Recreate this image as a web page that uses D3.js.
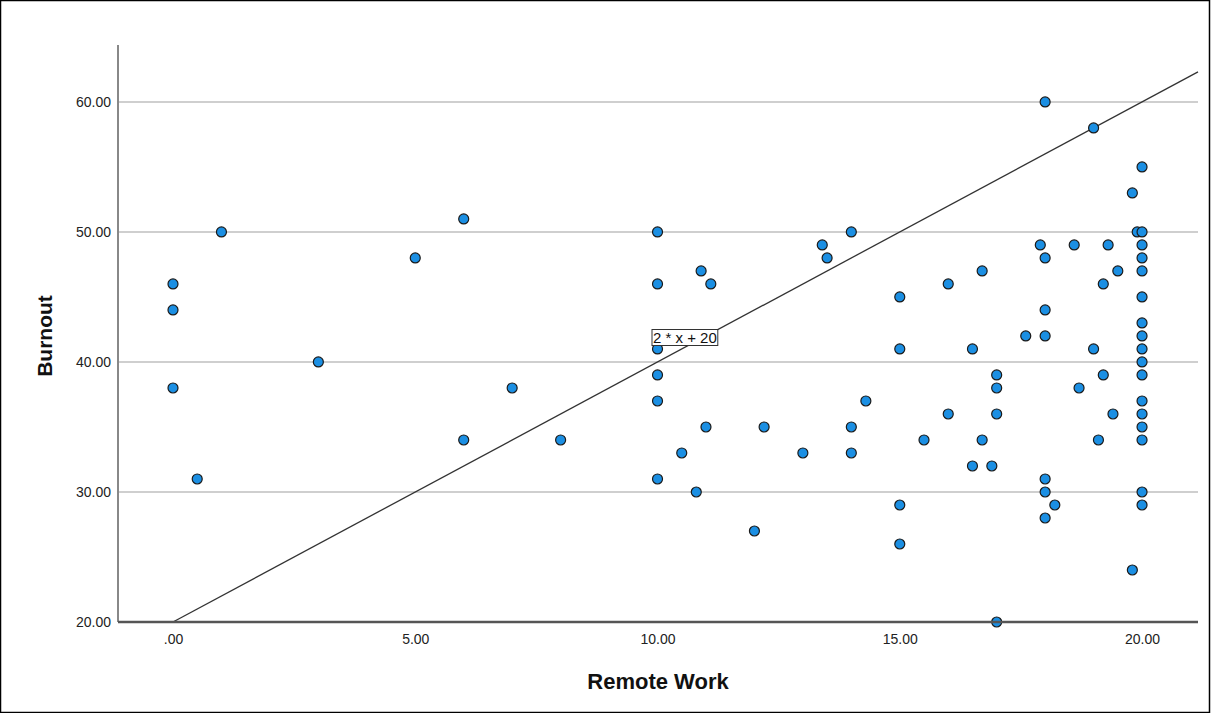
<!DOCTYPE html>
<html lang="en">
<head>
    <meta charset="UTF-8">
    <title>Burnout vs Remote Work</title>
    <script src="https://d3js.org/d3.v7.min.js"></script>
    <style>
        body { margin: 0; background: #fff; }
        text { font-family: "Liberation Sans", Arial, sans-serif; }
        .tick-label { font-size: 14px; fill: #222; }
        .axis-title { font-size: 22px; font-weight: bold; fill: #111; }
    </style>
</head>
<body>
<svg id="chart"></svg>
<script>
    // remote work (x) and burnout (y) scores
    const remoteWork = [
        0, 0, 0, 0.5, 1, 3, 5, 6, 6, 7, 8,
        10, 10, 10, 10, 10, 10, 10.5, 10.8, 10.9, 11, 11.1,
        12, 12.2, 13, 13.4, 13.5, 14, 14, 14, 14.3,
        15, 15, 15, 15, 15.5, 16, 16, 16.5, 16.5, 16.7, 16.7, 16.9,
        17, 17, 17, 17, 17.6, 17.9, 18, 18, 18, 18, 18, 18, 18,
        18.2, 18.6, 18.7, 19, 19, 19.1, 19.2, 19.2, 19.3, 19.4, 19.5,
        19.8, 19.8, 19.9,
        20, 20, 20, 20, 20, 20, 20, 20, 20, 20, 20, 20, 20, 20, 20, 20, 20
    ];
    const burnout = [
        46, 44, 38, 31, 50, 40, 48, 51, 34, 38, 34,
        50, 46, 41, 39, 37, 31, 33, 30, 47, 35, 46,
        27, 35, 33, 49, 48, 50, 35, 33, 37,
        45, 41, 29, 26, 34, 46, 36, 41, 32, 47, 34, 32,
        39, 38, 36, 20, 42, 49, 60, 48, 44, 42, 31, 30, 28,
        29, 49, 38, 58, 41, 34, 46, 39, 49, 36, 47,
        53, 24, 50,
        55, 50, 49, 48, 47, 45, 43, 42, 41, 40, 39, 37, 36, 35, 34, 30, 29
    ];
    const xTicks = [0, 5, 10, 15, 20];
    const yTicks = [20, 30, 40, 50, 60];
    const refSlope = 2, refIntercept = 20;
    const refLabel = "2 * x + 20";
    const xTitle = "Remote Work", yTitle = "Burnout";

    const width = 1211, height = 713;
    const plot = {left: 118, right: 1198, top: 45, bottom: 622};

    const svg = d3.select("#chart").attr("width", width).attr("height", height);

    // outer frame
    svg.append("rect")
        .attr("x", 0.5).attr("y", 0.5)
        .attr("width", width - 2).attr("height", height - 1)
        .attr("fill", "none").attr("stroke", "#000").attr("stroke-width", 1.5);

    const x = d3.scaleLinear().domain([-1.135, 21.155]).range([plot.left, plot.right]);
    const y = d3.scaleLinear().domain([20, 64.38]).range([plot.bottom, plot.top]);

    // grid lines
    svg.append("g").selectAll("line")
        .data(yTicks.filter(d => d > 20))
        .enter().append("line")
        .attr("x1", plot.left).attr("x2", plot.right)
        .attr("y1", d => y(d)).attr("y2", d => y(d))
        .attr("stroke", "#cfcfcf").attr("stroke-width", 2);

    // y axis
    const yAxis = svg.append("g")
        .attr("transform", `translate(${plot.left},0)`)
        .call(d3.axisLeft(y).tickValues(yTicks).tickSize(0).tickPadding(7)
            .tickFormat(d3.format(".2f")));
    yAxis.select(".domain").remove();
    yAxis.selectAll("text").attr("class", "tick-label").attr("font-size", null).attr("font-family", null);
    svg.append("line")
        .attr("x1", plot.left).attr("x2", plot.left)
        .attr("y1", plot.top).attr("y2", plot.bottom)
        .attr("stroke", "#888").attr("stroke-width", 2);

    // x axis
    const xAxis = svg.append("g")
        .attr("transform", `translate(0,${plot.bottom})`)
        .call(d3.axisBottom(x).tickValues(xTicks).tickSize(0).tickPadding(12)
            .tickFormat(d => d === 0 ? ".00" : d3.format(".2f")(d)));
    xAxis.select(".domain").remove();
    xAxis.selectAll("text").attr("class", "tick-label").attr("font-size", null).attr("font-family", null);

    // reference line y = 2x + 20
    const lineX = [0, x.domain()[1]];
    svg.append("line")
        .attr("x1", x(lineX[0])).attr("y1", y(refSlope * lineX[0] + refIntercept))
        .attr("x2", x(lineX[1])).attr("y2", y(refSlope * lineX[1] + refIntercept))
        .attr("stroke", "#333").attr("stroke-width", 1.3);

    // points
    const pts = remoteWork.map((v, i) => ({x: v, y: burnout[i]}));
    svg.append("g").selectAll("circle")
        .data(pts)
        .enter().append("circle")
        .attr("cx", d => x(d.x)).attr("cy", d => y(d.y))
        .attr("r", 5)
        .attr("fill", "#1b8fe3")
        .attr("stroke", "#1a1a1a").attr("stroke-width", 1.2);

    // bottom axis line drawn above points
    svg.append("line")
        .attr("x1", plot.left).attr("x2", plot.right)
        .attr("y1", plot.bottom).attr("y2", plot.bottom)
        .attr("stroke", "#555").attr("stroke-width", 2.5);

    // label of reference line
    const lab = svg.append("g");
    const labText = lab.append("text")
        .attr("x", 653).attr("y", 343)
        .attr("font-size", 15).attr("fill", "#111")
        .text(refLabel);
    const bb = labText.node().getBBox();
    lab.insert("rect", "text")
        .attr("x", 652).attr("y", bb.y + 0.5)
        .attr("width", bb.width + 2).attr("height", bb.height - 1)
        .attr("fill", "#fff").attr("stroke", "#333").attr("stroke-width", 1);

    // axis titles
    svg.append("text").attr("class", "axis-title")
        .attr("x", 658).attr("y", 689)
        .attr("text-anchor", "middle").text(xTitle);
    svg.append("text").attr("class", "axis-title")
        .attr("font-size", 21).style("font-size", "21px")
        .attr("transform", `translate(52,336) rotate(-90)`)
        .attr("text-anchor", "middle").text(yTitle);
</script>
</body>
</html>
